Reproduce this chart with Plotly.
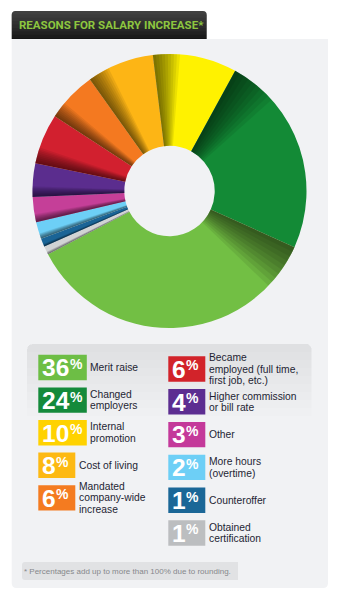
import plotly.graph_objects as go

# ---------------- data ----------------
labels = ["Merit raise", "Changed<br>employers", "Internal<br>promotion", "Cost of living",
          "Mandated<br>company-wide<br>increase",
          "Became<br>employed (full time,<br>first job, etc.)",
          "Higher commission<br>or bill rate", "Other", "More hours<br>(overtime)",
          "Counteroffer", "Obtained<br>certification"]
values = [36, 24, 10, 8, 6, 6, 4, 3, 2, 1, 1]
box_colors = ["#6dbe45", "#148a3b", "#ffd200", "#fdb913", "#f47b20", "#d2232a",
              "#5c2d91", "#c4399a", "#6dcff6", "#1b6797", "#bcbec0"]
slice_colors = ["#72bf44", "#138a36", "#fff200", "#fdb515", "#f47920", "#d2202f",
                "#5b2d8e", "#c53f98", "#6dcff6", "#1a6496", "#d1d3d4"]
pie_order = [2, 1, 0, 10, 9, 8, 7, 6, 5, 4, 3]   # clockwise from top
column = [0, 0, 0, 0, 0, 1, 1, 1, 1, 1, 1]
title = "REASONS FOR SALARY INCREASE*"
footnote = "* Percentages add up to more than 100% due to rounding."

# ---------------- geometry helpers (pixel -> paper) ----------------
W, H = 340, 597
def X(x): return x / W
def Y(y): return 1 - y / H

def rrect(x0, y0, x1, y1, rtl=0, rtr=0, rbr=0, rbl=0):
    return (f"M{X(x0+rtl)},{Y(y0)} L{X(x1-rtr)},{Y(y0)} Q{X(x1)},{Y(y0)} {X(x1)},{Y(y0+rtr)} "
            f"L{X(x1)},{Y(y1-rbr)} Q{X(x1)},{Y(y1)} {X(x1-rbr)},{Y(y1)} "
            f"L{X(x0+rbl)},{Y(y1)} Q{X(x0)},{Y(y1)} {X(x0)},{Y(y1-rbl)} "
            f"L{X(x0)},{Y(y0+rtl)} Q{X(x0)},{Y(y0)} {X(x0+rtl)},{Y(y0)} Z")

FONT = "Liberation Sans, Arial, Helvetica, sans-serif"
shapes, annotations = [], []

def path_shape(p, fill, layer="below"):
    shapes.append(dict(type="path", path=p, xref="paper", yref="paper",
                       fillcolor=fill, line=dict(width=0), layer=layer))

def text(x, y, s, size, color, bold=False, family=FONT, xanchor="left", yanchor="middle"):
    annotations.append(dict(x=X(x), y=Y(y), xref="paper", yref="paper", text=s,
                            showarrow=False, xanchor=xanchor, yanchor=yanchor,
                            borderpad=0, borderwidth=0,
                            font=dict(family=family, size=size, color=color,
                                      weight="bold" if bold else "normal")))

# panel
path_shape(rrect(11.7, 39, 328, 588, 0, 0, 5, 5), "#f1f2f4")
# title tab with gradient
path_shape(rrect(11.7, 11, 206.7, 39, 4, 4, 0, 0), "#151515")
for k in range(8):
    path_shape(rrect(11.7, 11, 206.7, 11 + 3.4 * (8 - k), 4, 4, 0, 0), "rgba(255,255,255,0.028)")
text(19.0, 25.3, title, 11.5, "#8dc63f", bold=True, family="Roboto, Liberation Sans, sans-serif")

# legend background gradient
for k in range(9):
    path_shape(rrect(27, 344, 311.5, 344 + 8 * (k + 1), 6, 6, 0, 0), "rgba(140,142,150,0.02)")

# footnote
path_shape(rrect(22, 562, 238, 580, 3, 0, 0, 3), "#e1e2e4")
text(24, 571, footnote, 8, "#86888b")

# ---------------- legend items ----------------
LABEL_SIZE, LINE_PITCH = 10.3, 11.6
row_idx = [0, 0]
for i, v in enumerate(values):
    c = column[i]
    r = row_idx[c]; row_idx[c] += 1
    if c == 0:
        x0, cy = 38.3, 367.5 + r * 32.6
    else:
        x0, cy = 168.3, 369.0 + r * 32.8
    ndig = len(str(v))
    w = 48.5 if ndig == 2 else 37
    shapes.append(dict(type="rect", xref="paper", yref="paper",
                       x0=X(x0), x1=X(x0 + w), y0=Y(cy - 12.7), y1=Y(cy + 12.7),
                       fillcolor=box_colors[i], line=dict(width=0), layer="above"))
    text(x0 + 4.0, cy + 0.3, str(v), 24.5, "white", bold=True)
    text(x0 + 4.0 + ndig * 13.6 + 0.3, cy - 3.6, "%", 14, "white", bold=True)
    lines = labels[i].split("<br>")
    n = len(lines)
    for j, ln in enumerate(lines):
        text(x0 + w + 3.4, cy + (j - (n - 1) / 2) * LINE_PITCH, ln, LABEL_SIZE, "#1e1f33")

# ---------------- pie ----------------
pie_vals = [values[i] for i in pie_order]
pie_cols = [slice_colors[i] for i in pie_order]
pie_labels = [labels[i].replace("<br>", " ") for i in pie_order]
domain = dict(x=[X(32.5), X(306.5)], y=[Y(328), Y(54)])

fig = go.Figure()
fig.add_trace(go.Pie(values=pie_vals, labels=pie_labels, marker=dict(colors=pie_cols, line=dict(width=0)),
                     sort=False, direction="clockwise", rotation=-7, hole=0.33,
                     textinfo="none", hoverinfo="label+value", domain=domain, showlegend=False))

# shading overlay: stacked translucent bands at the leading edge of each slice
n_layers = 9
for k in range(n_layers):
    frac = (n_layers - k) / n_layers
    sh_vals, sh_cols = [], []
    for i in pie_order:
        v = values[i]
        s = min(0.32 * v, 5.5) * frac
        sh_vals += [s, v - s]
        sh_cols += ["rgba(0,0,0,0.075)", "rgba(0,0,0,0)"]
    fig.add_trace(go.Pie(values=sh_vals, marker=dict(colors=sh_cols, line=dict(width=0)),
                         sort=False, direction="clockwise", rotation=-7, hole=0.33,
                         textinfo="none", hoverinfo="skip", domain=domain, showlegend=False))

fig.update_layout(width=W, height=H, margin=dict(l=0, r=0, t=0, b=0),
                  paper_bgcolor="white", plot_bgcolor="white", showlegend=False,
                  shapes=shapes, annotations=annotations)
fig.write_html("out.html", config=dict(displayModeBar=False))
